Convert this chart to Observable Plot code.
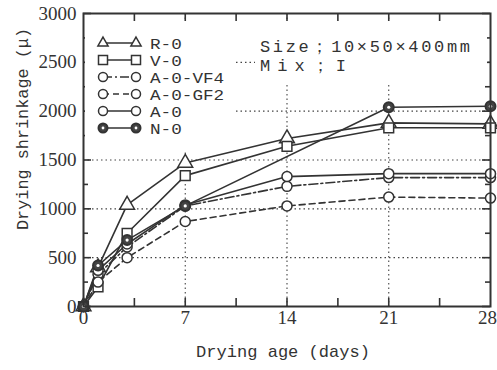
<!DOCTYPE html>
<html><head><meta charset="utf-8">
<script src="https://cdn.jsdelivr.net/npm/d3@7"></script>
<script src="https://cdn.jsdelivr.net/npm/@observablehq/plot@0.6"></script>
<style>body{margin:0;background:white}#chart{width:497px;height:370px}</style>
</head><body><div id="chart"></div>
<script>
// ---- data ----
const days = [0, 1, 3, 7, 14, 21, 28];
const seriesNames = ["R-0", "V-0", "A-0-VF4", "A-0-GF2", "A-0", "N-0"];
const r0   = [0, 400, 1040, 1470, 1720, 1880, 1870];
const v0   = [0, 200, 750, 1340, 1640, 1830, 1830];
const aVF4 = [0, 330, 610, 1030, 1230, 1320, 1320];
const aGF2 = [0, 250, 500, 870, 1030, 1120, 1110];
const a0   = [0, 370, 640, 1040, 1330, 1360, 1360];
const n0   = [0, 420, 680, 1030, null, 2040, 2050];
const yTickLabels = [0, 500, 1000, 1500, 2000, 2500, 3000];
const xTickLabels = [0, 7, 14, 21, 28];
const yGrid = [500, 1000, 1500, 2000, 2500];
const xGrid = [7, 14, 21];
const yMinorTicks = [250, 750, 1250, 1750, 2250, 2750];
const xAllTicks = [3.5, 7, 10.5, 14, 17.5, 21, 24.5];
const xLabel = "Drying age (days)";
const yLabel = "Drying shrinkage (μ)";
const note1 = "Size；10×50×400mm";
const note2 = "Mix；I";

// ---- styles ----
const ink = "#333";
const styles = {
  "R-0": {symbol: "triangle", dash: null},
  "V-0": {symbol: "square", dash: null},
  "A-0-VF4": {symbol: "circle", dash: "9,3,2,3"},
  "A-0-GF2": {symbol: "circle", dash: "6,4"},
  "A-0": {symbol: "circle", dash: null},
  "N-0": {symbol: "circle", dash: null, filled: true}
};
const allVals = [r0, v0, aVF4, aGF2, a0, n0];
const rows = [];
seriesNames.forEach((s, k) => days.forEach((d, i) => {
  if (allVals[k][i] != null) rows.push({series: s, day: d, v: allVals[k][i]});
}));

const W = 497, H = 370, ml = 83, mr = 7, mt = 13, mb = 64;
const pxX = 28 / (W - ml - mr), pxY = 3000 / (H - mt - mb);
const tk = 8, tkm = 5;
const serif = "'Liberation Serif', 'DejaVu Serif', 'Times New Roman', serif";
const mono = "'Liberation Mono', 'DejaVu Sans Mono', monospace";

const marks = [
  Plot.ruleY(yGrid, {stroke: "#444", strokeDasharray: "1.5,3", strokeWidth: 1.1}),
  Plot.ruleX(xGrid, {stroke: "#444", strokeDasharray: "1.5,3", strokeWidth: 1.1}),
  // inward ticks
  Plot.ruleY(yTickLabels, {x1: () => 0, x2: () => tk * pxX, stroke: ink, strokeWidth: 1.6}),
  Plot.ruleY(yMinorTicks, {x1: () => 0, x2: () => tkm * pxX, stroke: ink, strokeWidth: 1.6}),
  Plot.ruleY(yTickLabels, {x1: () => 28, x2: () => 28 - tk * pxX, stroke: ink, strokeWidth: 1.6}),
  Plot.ruleY(yMinorTicks, {x1: () => 28, x2: () => 28 - tkm * pxX, stroke: ink, strokeWidth: 1.6}),
  Plot.ruleX(xAllTicks, {y1: () => 0, y2: () => tk * pxY, stroke: ink, strokeWidth: 1.6}),
  Plot.ruleX(xAllTicks, {y1: () => 3000, y2: () => 3000 - tk * pxY, stroke: ink, strokeWidth: 1.6}),
  Plot.axisY({ticks: yTickLabels, tickSize: 0, tickPadding: 7, label: null, tickFormat: d => String(d), fontFamily: serif}),
  Plot.axisX({ticks: xTickLabels, tickSize: 0, tickPadding: 4, label: null, tickFormat: d => String(d), fontFamily: serif})
];
for (const s of seriesNames) {
  const st = styles[s];
  const data = rows.filter(r => r.series === s);
  marks.push(Plot.line(data, {x: "day", y: "v", stroke: ink, strokeWidth: 1.6, strokeDasharray: st.dash}));
}
for (const s of seriesNames) {
  const st = styles[s];
  const data = rows.filter(r => r.series === s);
  if (st.filled) {
    marks.push(Plot.dot(data, {x: "day", y: "v", r: 5, fill: "#444", stroke: ink, strokeWidth: 2}));
    marks.push(Plot.dot(data, {x: "day", y: "v", r: 1.6, fill: "white"}));
  } else {
    marks.push(Plot.dot(data, {x: "day", y: "v", symbol: st.symbol, r: st.symbol === "circle" ? 5 : 5.5, fill: "white", stroke: ink, strokeWidth: 1.5}));
  }
}
marks.push(Plot.frame({stroke: ink, strokeWidth: 2}));

const chart = Plot.plot({
  width: W, height: H, marginLeft: ml, marginRight: mr, marginTop: mt, marginBottom: mb,
  style: {background: "white", color: ink, fontSize: "19px", fontFamily: serif},
  x: {domain: [0, 28]},
  y: {domain: [0, 3000]},
  marks
});
document.getElementById("chart").appendChild(chart);
chart.querySelectorAll("text").forEach(t => { t.style.fontFamily = serif; });
// pull the last x label slightly inside the edge
const xl = chart.querySelectorAll('g[aria-label="x-axis tick label"] text');
if (xl.length) xl[xl.length - 1].setAttribute("dx", "-3");

// ---- white boxes behind legend and note (above grid, below data) ----
const svg = d3.select(chart);
const firstLine = chart.querySelector('g[aria-label="line"]');
function whiteBox(x, y, w, h) {
  const r = document.createElementNS("http://www.w3.org/2000/svg", "rect");
  r.setAttribute("x", x); r.setAttribute("y", y); r.setAttribute("width", w); r.setAttribute("height", h);
  r.setAttribute("fill", "white");
  chart.insertBefore(r, firstLine);
}
whiteBox(ml + 2, mt + 9, 150, 128);
whiteBox(255, mt + 9, 232, 63);

function txt(parent, x, y, s, len, anchor = "start", size = 17) {
  return parent.append("text").attr("x", x).attr("y", y).attr("text-anchor", anchor)
    .style("font-family", mono).attr("font-size", size).attr("fill", ink)
    .attr("textLength", len).attr("lengthAdjust", "spacingAndGlyphs").text(s);
}

// ---- legend ----
const leg = svg.append("g");
const legY = [43, 60, 77, 94, 111, 128];
seriesNames.forEach((s, i) => {
  const st = styles[s], y = legY[i], x1 = 103, x2 = 136;
  leg.append("line").attr("x1", x1).attr("x2", x2).attr("y1", y).attr("y2", y)
    .attr("stroke", ink).attr("stroke-width", 1.6).attr("stroke-dasharray", st.dash);
  for (const x of [x1, x2]) {
    if (st.symbol === "triangle") {
      leg.append("path").attr("d", d3.symbol(d3.symbolTriangle, 45)()).attr("transform", `translate(${x},${y})`)
        .attr("fill", "white").attr("stroke", ink).attr("stroke-width", 1.5);
    } else if (st.symbol === "square") {
      leg.append("rect").attr("x", x - 4.5).attr("y", y - 4.5).attr("width", 9).attr("height", 9)
        .attr("fill", "white").attr("stroke", ink).attr("stroke-width", 1.5);
    } else if (st.filled) {
      leg.append("circle").attr("cx", x).attr("cy", y).attr("r", 4.5).attr("fill", "#444").attr("stroke", ink).attr("stroke-width", 2);
      leg.append("circle").attr("cx", x).attr("cy", y).attr("r", 1.4).attr("fill", "white");
    } else {
      leg.append("circle").attr("cx", x).attr("cy", y).attr("r", 4.5).attr("fill", "white").attr("stroke", ink).attr("stroke-width", 1.5);
    }
  }
  txt(leg, 150, y + 5.5, s, s.length * 10.6, "start", 15);
});

// ---- note ----
svg.append("text").attr("x", 260).attr("y", 52).attr("text-anchor", "start").style("font-family", mono)
  .attr("font-size", 17).attr("fill", ink).attr("textLength", 210).attr("lengthAdjust", "spacing").text(note1);
svg.append("text").attr("x", 260).attr("y", 71).attr("text-anchor", "start").style("font-family", mono)
  .attr("font-size", 17).attr("fill", ink).attr("textLength", 86).attr("lengthAdjust", "spacing").text(note2);

// ---- axis titles ----
txt(svg, 283, 357, xLabel, 174, "middle");
txt(svg, 0, 0, yLabel, 202, "middle").attr("transform", "translate(28,129) rotate(-90)");
</script>
</body></html>
